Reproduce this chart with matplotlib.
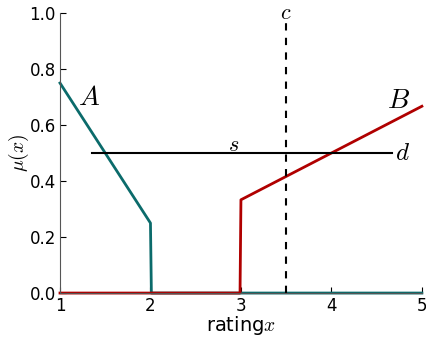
import matplotlib
matplotlib.use("Agg")
import matplotlib.pyplot as plt

plt.rcParams["mathtext.fontset"] = "cm"

# membership functions A and B
a_x = [1.0, 2.0, 2.01, 5.0]
a_y = [0.75, 0.25, 0.0, 0.0]
b_x = [1.0, 2.99, 3.0, 5.0]
b_y = [0.0, 0.0, 0.333, 0.667]

# threshold line s and cut c
s_x = [1.35, 4.67]
s_y = [0.5, 0.5]
c_x = 3.5
c_top = 0.975

xticks = [1, 2, 3, 4, 5]
yticks = [0.0, 0.2, 0.4, 0.6, 0.8, 1.0]

fig = plt.figure(figsize=(4.27, 3.38), dpi=100)
ax = fig.add_axes([0.1405, 0.133, 0.8475, 0.8285])

ax.plot(a_x, a_y, color="#0b6b6b", lw=2, clip_on=False)
ax.plot(b_x, b_y, color="#b00000", lw=2, clip_on=False)
ax.plot(s_x, s_y, color="black", lw=1.5)
ax.plot([c_x, c_x], [0, c_top], color="black", lw=1.5, ls="--", dashes=(3.5, 3.5))

ax.text(1.32, 0.70, "$A$", fontsize=20, ha="center", va="center")
ax.text(4.74, 0.69, "$B$", fontsize=20, ha="center", va="center")
ax.text(2.92, 0.53, "$s$", fontsize=16, ha="center", va="center")
ax.text(4.79, 0.50, "$d$", fontsize=18, ha="center", va="center")
ax.text(c_x, 1.0, "$c$", fontsize=16, ha="center", va="center")

ax.set_xlim(1, 5)
ax.set_ylim(0, 1)
ax.set_xticks(xticks)
ax.set_yticks(yticks)
ax.tick_params(direction="in", labelsize=12, length=4, pad=3, top=False, right=False)
ax.spines["top"].set_visible(False)
ax.spines["right"].set_visible(False)
ax.spines["left"].set_color("#555555")
ax.spines["bottom"].set_color("#555555")

ax.set_xlabel("rating$x$", fontsize=14, labelpad=-1)
ax.set_ylabel(r"$\mu(x)$", fontsize=14, labelpad=-1)

fig.savefig("out.png", dpi=100)
